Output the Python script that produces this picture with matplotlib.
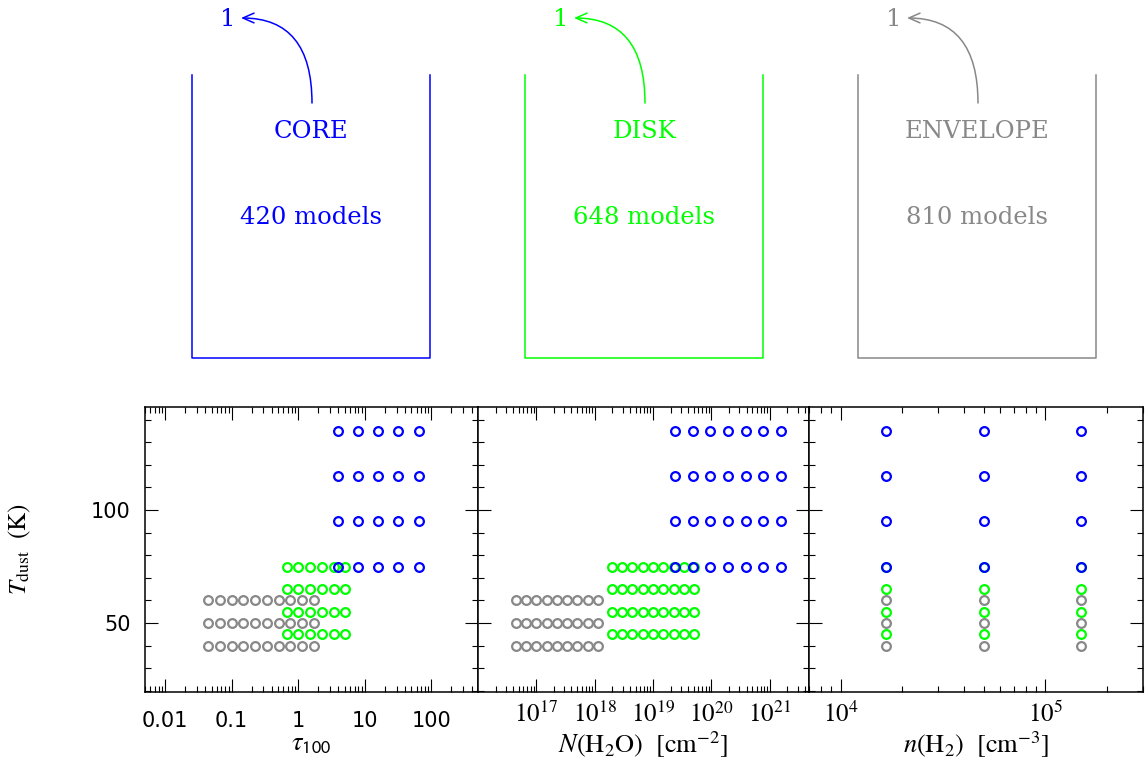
import matplotlib
matplotlib.use("Agg")
import matplotlib.pyplot as plt
import numpy as np
from matplotlib.ticker import LogLocator, MultipleLocator, NullFormatter

plt.rcParams["mathtext.fontset"] = "stix"

BLUE, GREEN, GREY = "#0000ff", "#00ff00", "#888888"

groups = ["CORE", "DISK", "ENVELOPE"]
n_models = [420, 648, 810]
picked = [1, 1, 1]
colors = [BLUE, GREEN, GREY]

# dust temperature grid (K)
tdust_core = [75, 95, 115, 135]
tdust_disk = [45, 55, 65, 75]
tdust_env = [40, 50, 60]

# 100 micron optical depth
tau_core = [4, 8, 16, 32, 64]
tau_disk = [0.67, 1.0, 1.5, 2.25, 3.4, 5.1]
tau_env = [0.044, 0.067, 0.1, 0.15, 0.225, 0.34, 0.51, 0.76, 1.14, 1.71]

# water column density (cm^-2)
nh2o_core = [2.4e19, 4.8e19, 9.6e19, 1.92e20, 3.84e20, 7.68e20, 1.54e21]
nh2o_disk = [1.98e18, 2.96e18, 4.44e18, 6.67e18, 1.0e19, 1.5e19, 2.25e19,
             3.38e19, 5.06e19]
nh2o_env = [4.44e16, 6.67e16, 1.0e17, 1.5e17, 2.25e17, 3.38e17, 5.06e17,
            7.59e17, 1.14e18]

# H2 density (cm^-3), same three values for every group
nh2 = [1.67e4, 5.0e4, 1.5e5]

W, H = 1145, 760
fig = plt.figure(figsize=(W / 100, H / 100), dpi=100)

# --- top: one open "bucket" per model family, drawn in pixel coords
top = fig.add_axes([0, 0, 1, 1])
top.set_xlim(0, W)
top.set_ylim(H, 0)
top.axis("off")
box_left = [192, 525, 858]
box_w, box_top, box_bot = 238, 75, 358
serif = dict(family="DejaVu Serif", fontsize=17.5, ha="center", va="center")
for name, n, k, c, x0 in zip(groups, n_models, picked, colors, box_left):
    top.plot([x0, x0, x0 + box_w, x0 + box_w],
             [box_top, box_bot, box_bot, box_top], color=c, lw=1.1)
    top.text(x0 + box_w / 2, 132, name, color=c, **serif)
    top.text(x0 + box_w / 2, 217, f"{n} models", color=c, **serif)
    top.annotate("", xy=(x0 + 49, 18), xytext=(x0 + 120, 103),
                 arrowprops=dict(arrowstyle="->,head_length=0.8,head_width=0.35",
                                 color=c, lw=1.1, shrinkA=0, shrinkB=0,
                                 connectionstyle="angle3,angleA=90,angleB=0"))
    top.text(x0 + 36, 19, str(k), color=c, **serif)

# --- bottom: parameter grids
edges = [145, 478, 809, 1143]
ax_bot, ax_top = 692, 407
axes = []
for i in range(3):
    ax = fig.add_axes([edges[i] / W, 1 - ax_bot / H,
                       (edges[i + 1] - edges[i]) / W, (ax_bot - ax_top) / H])
    ax.set_xscale("log")
    ax.set_ylim(19.5, 145.6)
    ax.yaxis.set_major_locator(MultipleLocator(50))
    ax.yaxis.set_minor_locator(MultipleLocator(10))
    ax.xaxis.set_minor_locator(LogLocator(subs=np.arange(2, 10), numticks=20))
    ax.xaxis.set_minor_formatter(NullFormatter())
    ax.tick_params(which="both", direction="in", top=True, right=True,
                   width=0.8, labelsize=15)
    ax.tick_params(which="major", length=9.5)
    ax.tick_params(which="minor", length=4.5)
    for s in ax.spines.values():
        s.set_linewidth(1.1)
    if i > 0:
        ax.set_yticklabels([])
    axes.append(ax)

xs = [(tau_env, tau_disk, tau_core),
      (nh2o_env, nh2o_disk, nh2o_core),
      (nh2, nh2, nh2)]
temps = (tdust_env, tdust_disk, tdust_core)
draw_colors = (GREY, GREEN, BLUE)
for ax, xgrid in zip(axes, xs):
    for xv, tv, c in zip(xgrid, temps, draw_colors):
        gx, gy = np.meshgrid(xv, tv)
        ax.plot(gx.ravel(), gy.ravel(), "o", ms=6.3, mfc="none", mec=c,
                mew=1.6, ls="none")

a1, a2, a3 = axes
a1.set_xlim(0.005, 500)
a1.set_xticks([0.01, 0.1, 1, 10, 100], labels=["0.01", "0.1", "1", "10", "100"])
a1.tick_params(axis="x", which="major", pad=14)
a1.set_yticks([50, 100], labels=["50", "100"])
a1.tick_params(axis="y", which="major", pad=10.5)

a2.set_xlim(1e16, 4.7e21)
a2.set_xticks([1e17, 1e18, 1e19, 1e20, 1e21],
              labels=[rf"$10^{{{p}}}$" for p in range(17, 22)])
a2.tick_params(axis="x", which="major", pad=7, labelsize=18)

a3.set_xlim(7e3, 3e5)
a3.set_xticks([1e4, 1e5], labels=[r"$10^{4}$", r"$10^{5}$"])
a3.tick_params(axis="x", which="major", pad=7, labelsize=18)

lab = dict(fontsize=19)
a1.set_xlabel(r"$\tau_{\mathsf{100}}$", **lab)
a2.set_xlabel(r"$N(\mathrm{H_2O})\ \ [\mathrm{cm}^{-2}]$", **lab)
a3.set_xlabel(r"$n(\mathrm{H_2})\ \ [\mathrm{cm}^{-3}]$", **lab)
for ax in axes:
    ax.xaxis.set_label_coords(0.5, -0.133)
a1.set_ylabel(r"$T_{\mathrm{dust}}\ \ (\mathrm{K})$", fontsize=18)
a1.yaxis.set_label_coords(-0.336, 0.5)

fig.savefig("out.png", dpi=100)
